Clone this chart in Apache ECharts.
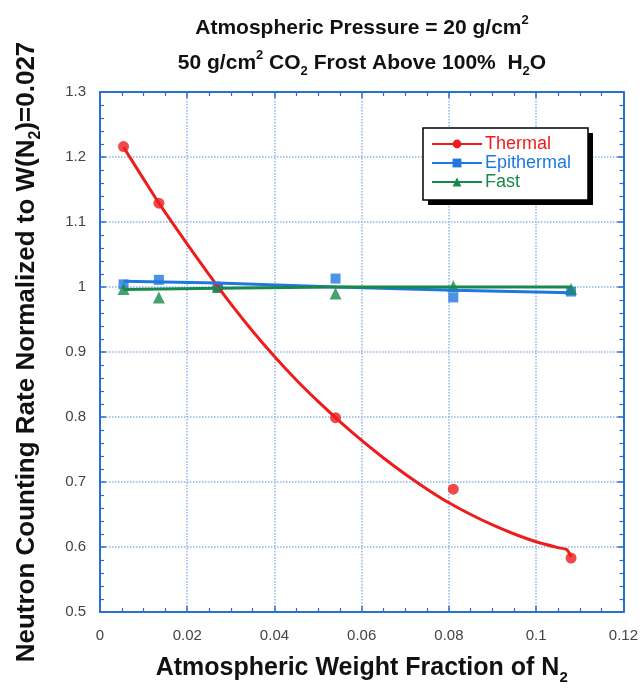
<!DOCTYPE html>
<html>
<head>
<meta charset="utf-8">
<script src="https://cdn.jsdelivr.net/npm/echarts@6/dist/echarts.min.js"></script>
<style>
  html, body { margin: 0; padding: 0; background: #fff; }
  #main { width: 641px; height: 692px; }
</style>
</head>
<body>
<div id="main"></div>
<script>
// measured points, x = weight fraction of N2
var xPts = [0.0054, 0.0135, 0.027, 0.054, 0.081, 0.108];
var thermal = [1.216, 1.129, 1.0, 0.799, 0.689, 0.583];
var epithermal = [1.004, 1.011, 1.0, 1.013, 0.984, 0.993];
var fast = [0.997, 0.984, 1.0, 0.990, 1.001, 0.997];

// fitted curves
var thermalFitX = [0.0054, 0.01, 0.0135, 0.02, 0.025, 0.03, 0.035, 0.04, 0.045, 0.05, 0.055, 0.06, 0.065, 0.07, 0.075, 0.08, 0.085, 0.09, 0.095, 0.1, 0.105, 0.107, 0.108];
var thermalFitY = [1.215, 1.166, 1.129, 1.066, 1.019, 0.974, 0.932, 0.893, 0.857, 0.824, 0.793, 0.764, 0.737, 0.712, 0.689, 0.668, 0.650, 0.634, 0.620, 0.608, 0.599, 0.596, 0.585];
var epiFitX = [0.0054, 0.027, 0.054, 0.081, 0.108];
var epiFitY = [1.009, 1.006, 1.0, 0.995, 0.991];
var fastFitX = [0.0054, 0.027, 0.054, 0.081, 0.108];
var fastFitY = [0.996, 0.998, 1.0, 1.0, 1.0];

var xTicks = { min: 0, max: 0.12, interval: 0.02 };
var yTicks = { min: 0.5, max: 1.3, interval: 0.1 };

var RED = '#ee1c1c', BLUE = '#1f78e0', GREEN = '#17894a', AXIS = '#2b6fd4';
var FONT = '"Liberation Sans", Arial, sans-serif';

function pairs(xs, ys) {
  return xs.map(function (x, i) { return [x, ys[i]]; });
}

// rich styles for super/subscripts, sized for a base font
function scripts(base) {
  var s = Math.round(base * 0.6);
  return {
    n: { fontSize: base, fontWeight: 'bold', fontFamily: FONT, color: '#111', lineHeight: base + 8 },
    sub: { fontSize: s, fontWeight: 'bold', fontFamily: FONT, color: '#111', lineHeight: s, verticalAlign: 'bottom' },
    sup: { fontSize: s, fontWeight: 'bold', fontFamily: FONT, color: '#111', lineHeight: s, verticalAlign: 'top' }
  };
}

var chart = echarts.init(document.getElementById('main'));

var baseAxis = {
  axisLine: { show: true, onZero: false, lineStyle: { color: AXIS, width: 2 } },
  axisTick: { show: true, inside: true, length: 6, lineStyle: { color: AXIS, width: 1.5 } },
  minorTick: { show: true, length: 4, lineStyle: { color: AXIS, width: 1.2 } },
  splitLine: { show: true, lineStyle: { color: '#8fb5ea', type: 'dotted', width: 1.5 } }
};

var option = {
  animation: false,
  backgroundColor: '#fff',
  title: [
    {
      text: '{n|Atmospheric Pressure = 20 g/cm}{sup|2}',
      left: 357, top: 9, textAlign: 'center',
      textStyle: { rich: scripts(21) }
    },
    {
      text: '{n|50 g/cm}{sup|2}{n| CO}{sub|2}{n| Frost Above 100%  H}{sub|2}{n|O}',
      left: 357, top: 44, textAlign: 'center',
      textStyle: { rich: scripts(21) }
    }
  ],
  graphic: [
    { type: 'rect', z: 1, shape: { x: 428, y: 133, width: 165, height: 72 }, style: { fill: '#000' } },
    { type: 'rect', z: 2, shape: { x: 423, y: 128, width: 165, height: 72 }, style: { fill: '#fff', stroke: '#000', lineWidth: 1.5 } }
  ],
  legend: {
    z: 5,
    left: 431, top: 135,
    orient: 'vertical',
    padding: 0,
    itemGap: 1,
    itemWidth: 50, itemHeight: 11,
    textStyle: { fontSize: 18, fontFamily: FONT, padding: [0, 0, 0, -2] },
    data: [
      { name: 'Thermal', textStyle: { color: RED } },
      { name: 'Epithermal', textStyle: { color: BLUE } },
      { name: 'Fast', textStyle: { color: GREEN } }
    ]
  },
  grid: { left: 100, right: 16, top: 92, bottom: 80 },
  xAxis: [
    Object.assign({}, baseAxis, {
      type: 'value', position: 'bottom',
      min: xTicks.min, max: xTicks.max, interval: xTicks.interval,
      minorTick: Object.assign({}, baseAxis.minorTick, { splitNumber: 4 }),
      axisLabel: { fontSize: 15, color: '#444', fontFamily: FONT, margin: 16 },
      name: '{n|Atmospheric Weight Fraction of N}{sub|2}',
      nameLocation: 'middle', nameGap: 40,
      nameTextStyle: { rich: scripts(25) }
    }),
    Object.assign({}, baseAxis, {
      type: 'value', position: 'top',
      min: xTicks.min, max: xTicks.max, interval: xTicks.interval,
      minorTick: Object.assign({}, baseAxis.minorTick, { splitNumber: 4 }),
      axisLabel: { show: false }, splitLine: { show: false }
    })
  ],
  yAxis: [
    Object.assign({}, baseAxis, {
      type: 'value', position: 'left',
      min: yTicks.min, max: yTicks.max, interval: yTicks.interval,
      minorTick: Object.assign({}, baseAxis.minorTick, { splitNumber: 5 }),
      axisLabel: { fontSize: 15, color: '#444', fontFamily: FONT, margin: 14 },
      name: '{n|Neutron Counting Rate Normalized to W(N}{sub|2}{n|)=0.027}',
      nameLocation: 'middle', nameRotate: 90, nameGap: 56,
      nameTextStyle: { rich: scripts(26) }
    }),
    Object.assign({}, baseAxis, {
      type: 'value', position: 'right',
      min: yTicks.min, max: yTicks.max, interval: yTicks.interval,
      minorTick: Object.assign({}, baseAxis.minorTick, { splitNumber: 5 }),
      axisLabel: { show: false }, splitLine: { show: false }
    })
  ],
  series: [
    {
      name: 'Thermal', type: 'line', showSymbol: false, smooth: 0.2,
      symbol: 'circle', symbolSize: 10,
      data: pairs(thermalFitX, thermalFitY),
      itemStyle: { color: RED }, lineStyle: { color: RED, width: 3 }
    },
    {
      name: 'Thermal', type: 'scatter', symbol: 'circle', symbolSize: 11,
      data: pairs(xPts, thermal), itemStyle: { color: RED }
    },
    {
      name: 'Epithermal', type: 'line', showSymbol: false,
      symbol: 'rect', symbolSize: 10,
      data: pairs(epiFitX, epiFitY),
      itemStyle: { color: BLUE }, lineStyle: { color: BLUE, width: 3 }
    },
    {
      name: 'Epithermal', type: 'scatter', symbol: 'rect', symbolSize: 10,
      data: pairs(xPts, epithermal), itemStyle: { color: BLUE }
    },
    {
      name: 'Fast', type: 'line', showSymbol: false,
      symbol: 'triangle', symbolSize: 11,
      data: pairs(fastFitX, fastFitY),
      itemStyle: { color: GREEN }, lineStyle: { color: GREEN, width: 3 }
    },
    {
      name: 'Fast', type: 'scatter', symbol: 'triangle', symbolSize: 12,
      data: pairs(xPts, fast), itemStyle: { color: GREEN }
    }
  ]
};

chart.setOption(option);
</script>
</body>
</html>
